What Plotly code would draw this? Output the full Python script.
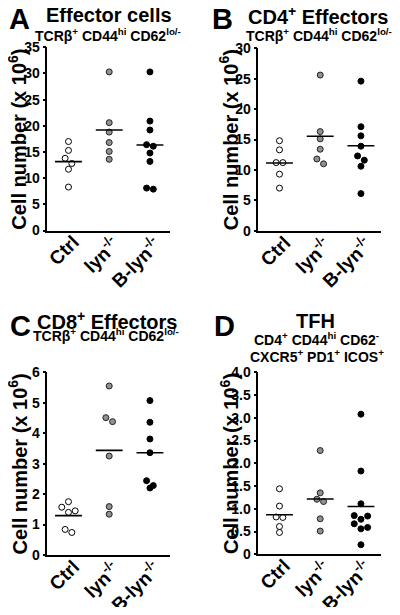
import plotly.graph_objects as go

# ---------------- data ----------------
categories = ["Ctrl", "lyn<sup>-/-</sup>", "B-lyn<sup>-/-</sup>"]

A_ctrl = [17.0, 15.3, 13.8, 12.8, 11.7, 8.3]
A_lyn = [30.3, 20.6, 18.8, 16.8, 15.1, 13.6]
A_blyn = [30.3, 20.9, 19.2, 16.4, 16.1, 14.8, 13.2, 8.1, 7.9]

B_ctrl = [14.8, 13.3, 11.2, 11.2, 9.3, 7.0]
B_lyn = [25.6, 16.3, 15.1, 13.4, 11.8, 11.0]
B_blyn = [24.6, 17.1, 15.6, 13.9, 12.3, 11.6, 10.6, 6.1]

C_ctrl = [1.75, 1.57, 1.45, 1.40, 0.84, 0.74]
C_lyn = [5.55, 4.51, 4.38, 3.25, 1.59, 1.34]
C_blyn = [5.07, 4.36, 3.81, 3.36, 2.44, 2.28, 2.20]

D_ctrl = [1.44, 1.06, 0.82, 0.81, 0.61, 0.48]
D_lyn = [2.28, 1.35, 1.21, 1.16, 0.78, 0.51]
D_blyn = [3.08, 1.83, 1.11, 0.85, 0.84, 0.77, 0.67, 0.59, 0.56, 0.21]

A_ticks = [0, 5, 10, 15, 20, 25, 30, 35]
B_ticks = [0, 5, 10, 15, 20, 25, 30]
C_ticks = [0, 1, 2, 3, 4, 5, 6]
D_ticks = [0, 0.5, 1.0, 1.5, 2.0, 2.5, 3.0, 3.5, 4.0]
D_ticktext = ["0", "0.5", "1.0", "1.5", "2.0", "2.5", "3.0", "3.5", "4.0"]

# ---------------- layout / style ----------------
PAGE_OFF = 8                 # page body margin
W, H = 400 - 2 * PAGE_OFF, 615 - 2 * PAGE_OFF
FONT = "Liberation Sans, Arial, Helvetica, sans-serif"
XR = [-0.52, 2.5]
PLOT_W = 123.0
CAT_DX, CAT_DY = 17.5, -1.5   # top-right corner of rotated category label vs tick


def b(s):
    return "<b>" + s + "</b>"


panels = [
    dict(letter="A", title="Effector cells",
         sub=["TCRβ<sup>+</sup> CD44<sup>hi</sup> CD62<sup>lo/-</sup>"],
         groups=[A_ctrl, A_lyn, A_blyn], ticks=A_ticks, ticktext=None, ymax=35,
         x0=47.3, y0=47.3, y1=230.5,
         letter_xy=(19, 19), title_xy=(109, 15.5), sub_xy=[(107.5, 34.5)]),
    dict(letter="B", title="CD4<sup>+</sup> Effectors",
         sub=["TCRβ<sup>+</sup> CD44<sup>hi</sup> CD62<sup>lo/-</sup>"],
         groups=[B_ctrl, B_lyn, B_blyn], ticks=B_ticks, ticktext=None, ymax=30,
         x0=258.3, y0=48.3, y1=230.7,
         letter_xy=(222, 19), title_xy=(318, 15.5), sub_xy=[(319, 34.5)]),
    dict(letter="C", title="CD8<sup>+</sup> Effectors",
         sub=["TCRβ<sup>+</sup> CD44<sup>hi</sup> CD62<sup>lo/-</sup>"],
         groups=[C_ctrl, C_lyn, C_blyn], ticks=C_ticks, ticktext=None, ymax=6,
         x0=47.3, y0=372.3, y1=555.0,
         letter_xy=(20, 326), title_xy=(107, 320), sub_xy=[(106, 335)]),
    dict(letter="D", title="TFH",
         sub=["CD4<sup>+</sup> CD44<sup>hi</sup> CD62<sup>-</sup>",
              "CXCR5<sup>+</sup> PD1<sup>+</sup> ICOS<sup>+</sup>"],
         groups=[D_ctrl, D_lyn, D_blyn], ticks=D_ticks, ticktext=D_ticktext, ymax=4,
         x0=258.3, y0=372.3, y1=554.3,
         letter_xy=(224, 326), title_xy=(315, 321), sub_xy=[(316, 338.5), (317, 356)]),
]

group_styles = [
    dict(color="white", line=dict(color="black", width=1)),
    dict(color="#909090", line=dict(color="#222222", width=1)),
    dict(color="black", line=dict(color="black", width=1)),
]

S_PX = 3.35   # half horizontal step between neighbouring dots
D_PX = 5.4    # vertical distance below which dots share a row


def swarm_offsets(values, ppu_y, ppu_x):
    """Prism-like row spreading: returns x offsets (data units)."""
    order = sorted(range(len(values)), key=lambda i: -values[i])
    offs = [0.0] * len(values)
    rows, cur = [], []
    for i in order:
        if cur and (values[cur[0]] - values[i]) * ppu_y >= D_PX:
            rows.append(cur)
            cur = []
        cur.append(i)
    if cur:
        rows.append(cur)
    for row in rows:
        n = len(row)
        if n == 1:
            slots = [0]
        elif n == 2:
            slots = [-S_PX, S_PX]
        elif n == 3:
            slots = [-2 * S_PX, 2 * S_PX, 0]
        else:
            slots = [(k - (n - 1) / 2) * 2 * S_PX for k in range(n)]
        for i, sp in zip(row, slots):
            offs[i] = sp / ppu_x
    return offs


def px2paper(x, y):
    return (x - PAGE_OFF) / W, 1 - (y - PAGE_OFF) / H


fig = go.Figure()
annotations = []

for k, p in enumerate(panels, start=1):
    xa = "x" if k == 1 else f"x{k}"
    ya = "y" if k == 1 else f"y{k}"
    plot_h = p["y1"] - p["y0"]
    ppu_y = plot_h / p["ymax"]
    ppu_x = PLOT_W / (XR[1] - XR[0])
    for gi, vals in enumerate(p["groups"]):
        offs = swarm_offsets(vals, ppu_y, ppu_x)
        fig.add_trace(go.Scatter(
            x=[gi + o for o in offs], y=vals, mode="markers",
            marker=dict(size=6, symbol="circle", **group_styles[gi]),
            xaxis=xa, yaxis=ya, showlegend=False, hoverinfo="skip"))
        mean = sum(vals) / len(vals)
        fig.add_trace(go.Scatter(
            x=[gi - 0.33, gi + 0.33], y=[mean, mean], mode="lines",
            line=dict(color="black", width=1.6),
            xaxis=xa, yaxis=ya, showlegend=False, hoverinfo="skip"))

    xl, yb = px2paper(p["x0"], p["y1"])
    xr, yt_ = px2paper(p["x0"] + PLOT_W, p["y0"])
    xkey = "xaxis" if k == 1 else f"xaxis{k}"
    ykey = "yaxis" if k == 1 else f"yaxis{k}"
    ytxt = p["ticktext"] if p["ticktext"] else [str(t) for t in p["ticks"]]
    fig.layout[xkey] = dict(
        domain=[xl, xr], anchor=ya, range=XR, tickvals=[0, 1, 2],
        showticklabels=False, automargin=False,
        showline=True, linecolor="black", linewidth=1.5,
        ticks="", showgrid=False, zeroline=False)
    fig.layout[ykey] = dict(
        domain=[yb, yt_], anchor=xa, range=[0, p["ymax"]], tickvals=p["ticks"],
        ticktext=[b(t) for t in ytxt], automargin=False,
        showline=True, linecolor="black", linewidth=1.5,
        ticks="outside", ticklen=3, tickwidth=1.5, tickcolor="black",
        showgrid=False, zeroline=False,
        tickfont=dict(family=FONT, size=14, color="black"))

    # rotated category labels
    for ci, cat in enumerate(categories):
        tick_px = p["x0"] + (ci - XR[0]) * ppu_x
        cx, cy = px2paper(tick_px + CAT_DX, p["y1"] + CAT_DY)
        annotations.append(dict(x=cx, y=cy, xref="paper", yref="paper", text=b(cat),
                                textangle=-45, showarrow=False,
                                xanchor="right", yanchor="top",
                                font=dict(family=FONT, size=19, color="black")))

    lx, ly = px2paper(*p["letter_xy"])
    annotations.append(dict(x=lx, y=ly, xref="paper", yref="paper", text=b(p["letter"]),
                            showarrow=False, xanchor="center", yanchor="middle",
                            font=dict(family=FONT, size=29, color="black")))
    tx, ty = px2paper(*p["title_xy"])
    annotations.append(dict(x=tx, y=ty, xref="paper", yref="paper", text=b(p["title"]),
                            showarrow=False, xanchor="center", yanchor="middle",
                            font=dict(family=FONT, size=20, color="black")))
    for s, sxy in zip(p["sub"], p["sub_xy"]):
        sx, sy = px2paper(*sxy)
        annotations.append(dict(x=sx, y=sy, xref="paper", yref="paper", text=b(s),
                                showarrow=False, xanchor="center", yanchor="middle",
                                font=dict(family=FONT, size=14, color="black")))
    yx, yy = px2paper(p["x0"] - 29.5, (p["y0"] + p["y1"]) / 2)
    annotations.append(dict(x=yx, y=yy, xref="paper", yref="paper",
                            text=b("Cell number (x 10<sup>6</sup>)"), textangle=-90,
                            showarrow=False, xanchor="center", yanchor="middle",
                            font=dict(family=FONT, size=20, color="black")))

fig.update_layout(
    width=W, height=H, margin=dict(l=0, r=0, t=0, b=0, pad=0, autoexpand=False),
    paper_bgcolor="white", plot_bgcolor="white",
    annotations=annotations, showlegend=False)

fig.write_html("out.html")
